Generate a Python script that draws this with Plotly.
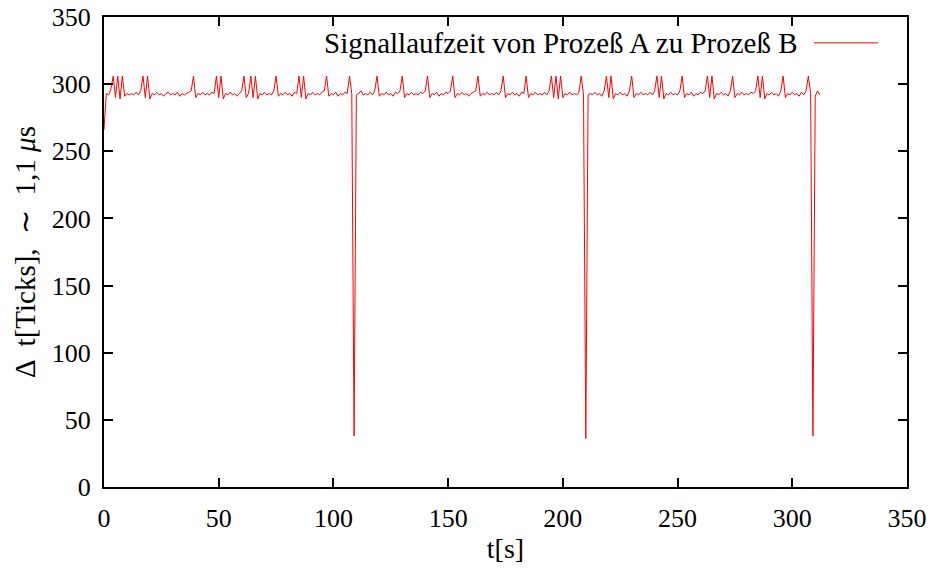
import plotly.graph_objects as go

# sampling times in seconds (1 s grid)
t_s = list(range(0, 313))

# Delta t in ticks
delta_ticks = [
    266, 293, 292, 296, 306, 290, 306, 289, 306, 291,
    293, 292, 293, 292, 294, 292, 295, 306, 290, 306,
    289, 293, 292, 294, 292, 293, 291, 293, 294, 292,
    293, 292, 294, 291, 293, 292, 293, 294, 295, 306,
    290, 293, 292, 294, 292, 293, 292, 294, 293, 306,
    290, 306, 289, 293, 292, 294, 292, 293, 291, 293,
    295, 306, 290, 293, 306, 290, 306, 289, 293, 292,
    294, 292, 293, 292, 295, 306, 291, 293, 292, 294,
    292, 293, 291, 294, 293, 306, 290, 306, 289, 293,
    292, 294, 292, 293, 292, 294, 295, 306, 291, 293,
    292, 294, 291, 293, 292, 294, 293, 306, 293, 38,
    292, 293, 295, 292, 293, 292, 294, 292, 295, 306,
    291, 293, 292, 294, 292, 293, 291, 294, 293, 295,
    306, 290, 293, 292, 294, 292, 293, 292, 294, 293,
    295, 306, 290, 293, 292, 294, 291, 293, 292, 294,
    293, 295, 306, 290, 293, 292, 294, 292, 293, 291,
    293, 294, 295, 306, 291, 293, 292, 294, 292, 293,
    292, 294, 292, 295, 306, 290, 293, 292, 294, 292,
    293, 291, 294, 293, 306, 290, 293, 292, 294, 292,
    293, 292, 294, 292, 295, 306, 290, 306, 289, 306,
    290, 293, 292, 294, 292, 293, 292, 294, 306, 292,
    36, 292, 293, 292, 294, 292, 293, 291, 295, 306,
    290, 306, 289, 293, 292, 294, 292, 293, 291, 295,
    306, 290, 293, 292, 294, 292, 293, 292, 294, 292,
    295, 306, 290, 306, 289, 293, 292, 294, 292, 293,
    292, 295, 306, 290, 293, 292, 294, 291, 293, 292,
    294, 293, 295, 306, 290, 306, 289, 293, 292, 294,
    292, 293, 291, 295, 306, 290, 293, 292, 294, 292,
    293, 292, 294, 293, 295, 306, 290, 306, 289, 293,
    292, 294, 292, 293, 291, 295, 306, 290, 293, 292,
    294, 292, 293, 291, 294, 292, 295, 306, 293, 38,
    291, 295, 292,
]

series_name = "Signallaufzeit von Prozeß A zu Prozeß B"
x_ticks = [0, 50, 100, 150, 200, 250, 300, 350]
y_ticks = [0, 50, 100, 150, 200, 250, 300, 350]

FONT = "Liberation Serif"

fig = go.Figure()
fig.add_trace(go.Scatter(
    x=t_s, y=delta_ticks, mode="lines", name=series_name,
    line=dict(color="#ff0000", width=1), showlegend=False,
))

axis_common = dict(
    showgrid=False, zeroline=False, showline=True, mirror="ticks",
    linecolor="black", linewidth=2, ticks="inside", ticklen=9,
    tickwidth=1.5, tickcolor="black", automargin=False,
    tickfont=dict(family=FONT, size=26, color="black"),
)

fig.update_xaxes(
    range=[0, 350], tickvals=x_ticks, ticktext=[str(v) for v in x_ticks],
    title=dict(text="t[s]", font=dict(family=FONT, size=28, color="black"), standoff=6),
    ticklabelstandoff=7,
    **axis_common,
)
fig.update_yaxes(
    range=[0, 350], tickvals=y_ticks, ticktext=[str(v) for v in y_ticks],
    title=dict(text="Δ  t[Ticks],  ∼  1,1 <i>μ</i>s", font=dict(family=FONT, size=29, color="black"), standoff=8),
    ticklabelstandoff=6,
    **axis_common,
)

# gnuplot-style key: text then line sample
fig.add_annotation(
    xref="paper", yref="paper", x=0.867, y=0.945, xanchor="right", yanchor="middle",
    text=series_name, showarrow=False,
    font=dict(family=FONT, size=29, color="black"),
)
fig.add_shape(
    type="line", xref="paper", yref="paper", x0=0.884, x1=0.964, y0=0.945, y1=0.945,
    line=dict(color="#ff0000", width=1),
)

fig.update_layout(
    width=933, height=570,
    margin=dict(l=104, r=26, t=17, b=83),
    paper_bgcolor="white", plot_bgcolor="white",
    font=dict(family=FONT, color="black"),
)

fig.write_html("out.html")
